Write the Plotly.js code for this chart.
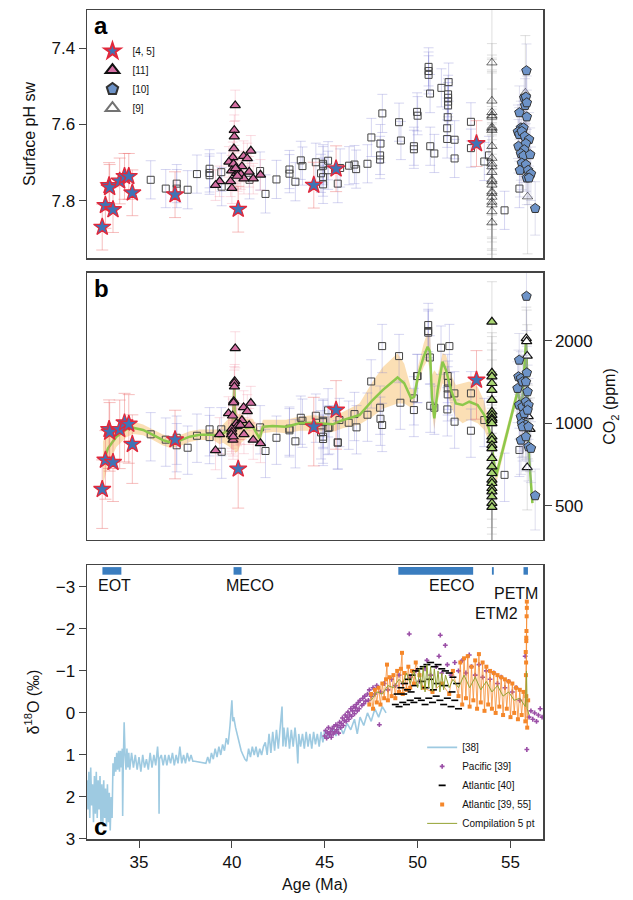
<!DOCTYPE html>
<html>
<head>
<meta charset="utf-8">
<script src="https://cdn.plot.ly/plotly-3.0.1.min.js"></script>
<style>body{margin:0;background:#fff}</style>
</head>
<body>
<div id="chart" style="width:633px;height:900px"></div>
<script>
// ---- panel a / b : boron proxy pH and CO2 ----
var starAge = [33.02, 33.19, 33.39, 33.42, 33.60, 33.96, 34.22, 34.45, 34.64, 36.94, 40.34, 44.41, 45.61, 53.17];
var starPH  = [7.869, 7.812, 7.760, 7.765, 7.823, 7.748, 7.736, 7.736, 7.779, 7.784, 7.822, 7.759, 7.716, 7.650];
var starCO2 = [575, 735, 951, 930, 721, 950, 1005, 994, 839, 872, 682, 972, 1118, 1438];

var pinkAgeA = [40.18, 40.13, 40.13, 40.11, 40.05, 39.84, 40.09, 40.63, 40.83, 41.02, 40.54, 39.99, 40.24,
                40.38, 40.48, 40.93, 40.65, 41.15, 41.54, 39.34, 39.12, 39.93, 40.00, 40.30, 40.20];
var pinkPH   = [7.550, 7.615, 7.632, 7.663, 7.686, 7.698, 7.703, 7.683, 7.689, 7.669, 7.710, 7.721, 7.728,
                7.724, 7.730, 7.724, 7.742, 7.742, 7.732, 7.749, 7.759, 7.749, 7.767, 7.735, 7.715];
var pinkAgeB = [40.18, 40.15, 40.13, 40.14, 40.10, 40.09, 40.63, 41.02, 40.83, 39.82, 40.04, 40.54, 40.24, 40.40,
                40.28, 40.46, 40.93, 39.99, 40.00, 39.98, 40.06, 39.34, 40.65, 41.15, 41.54, 39.12, 40.07];
var pinkCO2  = [1875, 1425, 1400, 1360, 1205, 1189, 1143, 1186, 1106, 1087, 1066, 1026, 1000, 990,
                975, 985, 985, 955, 930, 910, 870, 912, 912, 870, 846, 797, 894];

var sqAgeA = [35.63, 36.44, 37.03, 37.03, 37.62, 38.12, 38.80, 38.80, 38.80, 39.43, 39.45, 40.95, 41.52, 41.81,
              42.40, 43.10, 43.10, 43.42, 43.71, 43.80, 44.52, 44.91, 44.91, 45.18, 45.18, 44.80, 44.91, 44.91,
              45.70, 45.83, 46.31, 46.60, 46.69, 47.30, 47.51, 47.98, 47.98, 48.00, 48.10, 49.00, 49.10, 49.80,
              49.80, 49.97, 50.00, 50.59, 50.59, 50.59, 50.67, 50.68, 50.90, 51.28, 51.67, 51.64, 51.64, 51.64,
              51.64, 51.62, 51.59, 51.59, 51.99, 51.99, 52.87, 52.87, 53.59, 53.84, 54.68, 55.48];
var sqPH   = [7.745, 7.768, 7.755, 7.768, 7.771, 7.730, 7.716, 7.727, 7.733, 7.725, 7.763, 7.745, 7.722, 7.782,
              7.744, 7.718, 7.729, 7.750, 7.694, 7.709, 7.699, 7.703, 7.708, 7.695, 7.720, 7.728, 7.738, 7.757,
              7.755, 7.714, 7.708, 7.705, 7.717, 7.703, 7.634, 7.681, 7.692, 7.650, 7.571, 7.594, 7.642, 7.657,
              7.665, 7.567, 7.577, 7.449, 7.460, 7.470, 7.519, 7.657, 7.676, 7.504, 7.489, 7.521, 7.530, 7.540,
              7.550, 7.581, 7.610, 7.638, 7.640, 7.689, 7.593, 7.662, 7.697, 7.681, 7.825, 7.768];
var sqAgeB = [35.63, 36.44, 37.03, 37.03, 37.62, 38.12, 38.80, 38.80, 39.43, 39.45, 41.52, 41.81, 42.40, 43.10,
              43.10, 43.42, 43.71, 43.80, 44.52, 44.91, 44.91, 45.18, 45.18, 44.80, 44.91, 44.91, 45.70, 45.25,
              45.79, 45.70, 46.29, 46.60, 46.71, 47.30, 47.50, 47.98, 48.00, 48.09, 48.09, 49.00, 49.07, 49.80,
              49.80, 49.97, 50.00, 50.57, 50.57, 50.57, 50.66, 50.68, 50.90, 51.26, 51.71, 51.62, 51.64, 51.62,
              51.62, 51.98, 51.60, 51.99, 52.87, 52.87, 53.59, 54.68, 55.48];
var sqCO2  = [912, 872, 886, 832, 815, 901, 951, 891, 951, 788, 967, 793, 886, 956,
              943, 860, 1048, 1022, 1066, 1022, 1010, 1115, 961, 927, 894, 877, 853, 967,
              1028, 850, 1005, 1081, 967, 1075, 1421, 1140, 1039, 986, 1912, 1758, 1189, 1233,
              1118, 1487, 1487, 2281, 2170, 2140, 1738, 1159, 1140, 1886, 1912, 1487, 1406, 1340,
              1275, 1286, 1124, 1014, 1286, 940, 1028, 649, 800];

var triAgeA = [54.0, 54.0, 54.0, 54.0, 54.0, 54.0, 54.0, 54.0, 54.0, 54.0, 54.0, 54.0, 54.0,
               54.0, 54.0, 54.0, 54.0, 54.0, 54.0, 54.0, 54.0, 54.0, 54.0, 55.80, 55.92];
var triPH   = [7.438, 7.538, 7.568, 7.576, 7.580, 7.607, 7.611, 7.615, 7.657, 7.688, 7.703, 7.710, 7.725,
               7.745, 7.749, 7.758, 7.776, 7.780, 7.790, 7.803, 7.810, 7.828, 7.857, 7.517, 7.789];
var triAgeB = [54.0, 54.0, 54.0, 54.0, 54.0, 54.0, 54.0, 54.0, 54.0, 54.0, 54.0, 54.0, 54.0,
               54.0, 54.0, 54.0, 54.0, 54.0, 54.0, 54.0, 54.0, 54.0, 54.0, 54.0, 54.0];
var triCO2  = [2344, 1528, 1479, 1400, 1322, 1216, 1102, 1072, 1043, 1028, 1000, 894, 869,
               833, 811, 746, 695, 658, 622, 605, 580, 564, 541, 512, 495];
var triAgeB2 = [55.85, 55.87, 55.90, 55.68, 55.95, 56.05, 55.90];
var triCO2b  = [2040, 1990, 1760, 1078, 1060, 952, 691];

var pentAgeA = [55.86, 55.74, 55.83, 55.79, 55.88, 55.48, 55.88, 55.56, 55.70, 55.40, 55.47, 55.61, 55.77, 56.00,
                55.43, 55.83, 55.74, 55.56, 55.70, 56.06, 55.61, 55.83, 55.51, 55.95, 56.10, 55.88, 56.00, 56.33];
var pentPH   = [7.459, 7.530, 7.528, 7.550, 7.543, 7.569, 7.580, 7.609, 7.609, 7.619, 7.626, 7.618, 7.631, 7.639,
                7.657, 7.650, 7.666, 7.676, 7.682, 7.679, 7.701, 7.705, 7.720, 7.720, 7.729, 7.740, 7.740, 7.820];
var pentAgeB = [55.86, 55.47, 55.38, 55.43, 55.56, 55.65, 55.88, 55.83, 55.92, 55.47, 55.65, 55.83, 55.97,
                55.56, 55.74, 55.92, 55.61, 55.83, 55.65, 55.97, 55.56, 55.83, 55.97, 56.10, 56.33];
var pentCO2  = [2905, 1700, 1341, 1479, 1459, 1417, 1528, 1417, 1304, 1166, 1149, 1199, 1166,
                1057, 1087, 1117, 1000, 986, 972, 972, 869, 894, 822, 811, 545];

// smoothed CO2 fit and its uncertainty band
var fitAge = [33.06, 33.33, 33.78, 34.32, 34.68, 35.22, 35.75, 36.29, 36.65, 37.19, 37.73, 38.26, 38.98, 39.34,
              39.52, 39.88, 40.05, 40.10, 40.13, 40.17, 40.32, 40.50, 40.77, 41.13, 41.49, 41.67, 42.20, 42.92,
              43.64, 44.35, 45.43, 45.97, 46.87, 47.58, 48.12, 48.92, 49.28, 49.65, 49.82, 50.00, 50.32, 50.54,
              50.67, 50.77, 50.90, 51.08, 51.34, 51.53, 51.80, 52.06, 52.42, 52.78, 53.23, 53.59, 53.86, 54.07,
              54.22, 55.38, 55.56, 55.65, 55.74, 55.83, 55.87, 55.91, 55.95, 56.00, 56.18];
var fitCO2 = [715, 811, 894, 951, 964, 946, 907, 869, 853, 865, 894, 909, 909, 894,
              919, 951, 1000, 1399, 1399, 1060, 951, 1000, 960, 970, 882, 972, 978, 972,
              1000, 1005, 992, 1028, 1072, 1216, 1322, 1470, 1399, 1233, 1250, 1470, 1748, 1900,
              1823, 1250, 1043, 1322, 1677, 1564, 1322, 1182, 1166, 1199, 1166, 1072, 946, 756,
              640, 1305, 1182, 1250, 1564, 1982, 1760, 1028, 950, 756, 512];
var fitLo  = [600, 700, 820, 890, 915, 905, 870, 830, 815, 825, 855, 870, 870, 840,
              850, 820, 800, 800, 800, 780, 790, 850, 880, 900, 840, 920, 930, 920,
              940, 940, 930, 960, 990, 1060, 1130, 1180, 1180, 1140, 1180, 1380, 1600, 1700,
              1550, 1100, 950, 1200, 1400, 1350, 1150, 1050, 1000, 1030, 1000, 946, 850, 690,
              600, 1240, 1120, 1190, 1480, 1880, 1670, 975, 900, 720, 490];
var fitHi  = [860, 930, 975, 1010, 1015, 990, 950, 910, 895, 905, 935, 950, 950, 950,
              990, 1050, 1100, 1450, 1450, 1150, 1080, 1080, 1040, 1040, 930, 1030, 1030, 1030,
              1060, 1070, 1060, 1100, 1180, 1420, 1600, 1800, 1650, 1340, 1330, 1580, 1950, 2150,
              2100, 1500, 1560, 1500, 1800, 1780, 1500, 1380, 1400, 1420, 1360, 1200, 1000, 830,
              680, 1370, 1240, 1310, 1650, 2080, 1850, 1080, 1000, 790, 535];

// ---- panel c : benthic d18O ----
var blueAge = [32.2, 32.25, 32.3, 32.35, 32.4, 32.45, 32.5, 32.55, 32.6, 32.65,
               32.7, 32.75, 32.8, 32.85, 32.9, 32.95, 33.0, 33.05, 33.1, 33.15,
               33.2, 33.25, 33.3, 33.35, 33.4, 33.45, 33.5, 33.55, 33.6, 33.65,
               33.7, 33.75, 33.8, 33.85, 33.9, 33.95, 34.0, 34.05, 34.1, 34.12,
               34.15, 34.2, 34.25, 34.3, 34.35, 34.4, 34.45, 34.5, 34.6, 34.7,
               34.8, 34.9, 35.0, 35.1, 35.2, 35.3, 35.4, 35.5, 35.6, 35.7,
               35.8, 35.9, 36.0, 36.06, 36.08, 36.1, 36.2, 36.3, 36.4, 36.5,
               36.6, 36.7, 36.8, 36.9, 37.0, 37.1, 37.2, 37.3, 37.4, 37.5,
               37.6, 37.7, 37.8, 37.9, 38.0, 38.6, 38.7, 38.8, 38.9, 39.0,
               39.1, 39.2, 39.3, 39.4, 39.5, 39.6, 39.7, 39.8, 39.9, 40.0,
               40.05, 40.1, 40.2, 40.3, 40.4, 40.5, 40.6, 40.7, 40.8, 40.9,
               41.0, 41.1, 41.2, 41.3, 41.4, 41.5, 41.6, 41.7, 41.8, 41.9,
               42.0, 42.1, 42.2, 42.3, 42.4, 42.5, 42.6, 42.7, 42.75, 42.8,
               42.9, 43.0, 43.1, 43.2, 43.3, 43.4, 43.5, 43.55, 43.6, 43.7,
               43.8, 43.9, 44.0, 44.1, 44.2, 44.3, 44.4, 44.5, 44.6, 44.7,
               44.8, 44.9, 45.0, 45.2, 45.4, 45.6, 45.8, 46.0, 46.2, 46.4,
               46.6, 46.75, 46.9, 47.1, 47.3, 47.5, 47.7, 47.9, 48.1, 48.3];
var blueD18 = [1.6, 2.3, 1.4, 2.5, 1.3, 2.2, 1.7, 2.6, 1.5, 2.4,
               1.4, 2.5, 1.6, 2.3, 1.5, 2.6, 1.7, 2.7, 1.6, 2.5,
               1.8, 2.7, 1.7, 2.6, 1.9, 2.8, 2.0, 2.5, 1.2, 1.5,
               1.05, 1.4, 0.95, 1.35, 0.9, 1.4, 0.9, 1.3, 0.85, 2.45,
               1.3, 0.22, 1.0, 1.35, 0.85, 1.3, 0.95, 1.35, 0.95, 1.3,
               1.0, 1.35, 1.05, 1.4, 1.0, 1.3, 1.1, 1.35, 0.95, 1.3,
               1.0, 1.25, 0.8, 1.2, 2.4, 1.1, 1.0, 1.25, 1.0, 1.25,
               1.0, 1.2, 0.95, 1.25, 1.0, 1.2, 0.8, 1.2, 1.0, 1.2,
               0.95, 1.15, 1.0, 1.15, 1.15, 1.2, 1.05, 1.2, 0.95, 1.1,
               0.85, 1.05, 0.8, 1.0, 0.75, 0.9, 0.6, 0.75, 0.3, -0.3,
               0.2, 0.1, 0.35, 0.55, 0.75, 0.9, 1.0, 1.1, 1.15, 0.85,
               1.05, 0.8, 1.0, 0.8, 1.05, 0.85, 1.0, 0.8, 0.7, 1.0,
               0.5, 0.95, 0.45, 0.9, 0.4, 0.85, 0.35, -0.15, 0.8, 0.35,
               0.8, 0.35, 0.85, 0.4, 0.8, 0.35, 0.8, 1.2, 0.5, 0.8,
               0.5, 0.85, 0.45, 0.8, 0.5, 0.85, 0.45, 0.75, 0.5, 0.8,
               0.45, 0.7, 0.4, 0.6, 0.35, 0.55, 0.3, 0.5, 0.25, 0.4,
               0.15, 0.5, 0.1, 0.3, 0.0, 0.2, -0.1, 0.1, -0.15, 0.0];

var pacAge = [45.0, 45.05, 45.1, 45.15, 45.2, 45.25, 45.3, 45.35, 45.4, 45.45,
              45.5, 45.55, 45.6, 45.65, 45.7, 45.75, 45.8, 45.85, 45.9, 45.95,
              46.0, 46.05, 46.1, 46.15, 46.2, 46.25, 46.3, 46.35, 46.4, 46.45,
              46.5, 46.55, 46.6, 46.65, 46.7, 46.75, 46.8, 46.85, 46.9, 47.0,
              47.05, 47.1, 47.15, 47.2, 47.3, 47.35, 47.4, 47.5, 47.6, 47.7,
              47.8, 47.94, 48.0, 48.2, 48.4, 48.6, 48.8, 49.0, 49.2, 49.55,
              49.6, 49.9, 50.1, 50.4, 50.5, 50.7, 51.0, 51.15, 51.22, 51.3,
              51.49, 51.6, 51.8, 52.0, 52.2, 52.4, 52.6, 52.78, 52.9, 53.1,
              53.3, 53.5, 53.7, 53.9, 54.1, 54.3, 54.5, 54.7, 54.9, 55.1,
              55.3, 55.5, 55.79, 55.88, 56.0, 56.1, 56.2, 56.3, 56.4, 56.5,
              56.6, 56.7];
var pacD18 = [0.55, 0.42, 0.6, 0.48, 0.35, 0.52, 0.45, 0.58, 0.38, 0.5,
              0.32, 0.45, 0.28, 0.4, 0.3, 0.48, 0.22, 0.35, 0.25, 0.12,
              0.3, 0.18, 0.05, 0.2, 0.1, -0.02, 0.15, 0.05, -0.1, 0.08,
              -0.05, -0.15, 0.02, -0.12, -0.2, -0.05, -0.25, -0.1, -0.3, -0.18,
              -0.35, -0.22, -0.4, -0.28, -0.45, -0.3, -0.55, -0.4, -0.6, -0.45,
              -0.65, 0.28, -0.5, -0.7, -0.55, -0.8, -0.65, -0.9, -0.7, -1.88,
              -0.85, -1.0, -0.75, -1.05, -1.25, -0.9, -1.1, -1.35, -1.85, -0.95,
              -1.61, -1.15, -0.9, -1.2, -1.0, -1.25, -0.95, -1.38, -1.1, -0.9,
              -1.15, -0.85, -1.0, -0.8, -0.95, -0.7, -0.85, -0.6, -0.75, -0.5,
              -0.6, -0.3, -1.35, 0.87, 0.1, -0.05, 0.15, 0.0, 0.2, 0.05,
              -0.1, 0.1];

var atl40Age = [48.8, 48.9, 49.0, 49.1, 49.2, 49.25, 49.3, 49.4, 49.45, 49.5,
                49.6, 49.65, 49.7, 49.8, 49.85, 49.9, 50.0, 50.1, 50.2, 50.25,
                50.3, 50.4, 50.45, 50.5, 50.6, 50.65, 50.7, 50.8, 50.85, 50.9,
                51.0, 51.05, 51.1, 51.2, 51.3, 51.4, 51.45, 51.5, 51.6, 51.7,
                51.8, 51.85, 51.9, 52.0, 52.1, 52.2];
var atl40D18 = [-0.2, -0.45, -0.15, -0.6, -0.25, -0.45, -0.7, -0.2, -0.55, -0.8,
                -0.3, -0.5, -0.9, -0.25, -0.65, -1.0, -0.35, -1.05, -0.3, -0.75,
                -1.1, -0.2, -0.6, -1.15, -0.35, -0.8, -1.2, -0.25, -0.55, -1.1,
                -0.4, -0.7, -1.15, -0.3, -1.05, -0.2, -0.65, -1.0, -0.35, -0.95,
                -0.15, -0.5, -0.85, -0.3, -0.7, -0.1];

var atlAge = [47.4, 47.5, 47.6, 47.7, 47.8, 47.9, 48.0, 48.1, 48.2, 48.3,
              48.35, 48.4, 48.5, 48.6, 48.7, 48.8, 48.9, 49.0, 49.1, 49.16,
              49.2, 49.3, 49.4, 49.5, 49.6, 49.7, 49.8, 49.9, 50.1, 50.3,
              50.8, 51.3, 51.7, 51.9, 52.2, 52.3, 52.4, 52.5, 52.6, 52.7,
              52.8, 52.9, 53.0, 53.1, 53.2, 53.3, 53.4, 53.5, 53.6, 53.7,
              53.8, 53.9, 54.0, 54.1, 54.2, 54.3, 54.4, 54.5, 54.6, 54.7,
              54.8, 54.9, 55.0, 55.1, 55.2, 55.3, 55.4, 55.5, 55.6, 55.7,
              55.8, 55.82, 55.83, 55.84, 55.85, 55.85, 55.86, 55.87, 55.88, 55.88,
              55.85, 55.9, 55.95];
var atlD18 = [-0.2, -0.45, -0.1, -0.55, -0.25, -0.6, -0.2, -0.7, -0.35, -0.8,
              -1.15, -0.3, -0.85, -0.4, -0.9, -0.35, -1.0, -0.5, -1.05, -1.43,
              -0.45, -0.95, -0.55, -1.1, -0.6, -1.0, -0.7, -1.2, -0.9, -0.6,
              -0.5, -0.7, -0.45, -1.0, -0.4, -1.2, -0.2, -1.3, -0.35, -1.35,
              -0.15, -1.1, -0.3, -1.25, -0.1, -1.4, -0.25, -1.2, -0.05, -1.1,
              -0.2, -1.0, -0.1, -0.95, 0.0, -0.9, -0.15, -0.85, 0.05, -0.8,
              -0.1, -0.75, 0.1, -0.7, 0.0, -0.6, 0.15, -0.55, 0.05, -0.5,
              0.2, -1.45, -0.9, -1.2, -1.71, -1.79, -1.95, -2.3, -2.5, -2.65,
              -0.4, 0.35, -0.3];

var compAge = [47.5, 47.8, 48.1, 48.4, 48.7, 49.0, 49.2, 49.4, 49.6, 49.8,
               50.0, 50.1, 50.2, 50.3, 50.4, 50.5, 50.6, 50.7, 50.8, 50.9,
               51.0, 51.1, 51.2, 51.3, 51.4, 51.5, 51.7, 51.9, 52.2, 52.5,
               52.8, 53.1, 53.4, 53.7, 54.0, 54.3, 54.6, 54.9, 55.2, 55.5,
               55.8, 55.86, 55.9, 56.0];
var compD18 = [-0.3, -0.5, -0.45, -0.65, -0.6, -0.8, -0.7, -0.95, -0.7, -1.0,
               -0.6, -1.05, -0.55, -1.1, -0.5, -1.15, -0.6, -1.1, -0.5, -1.05,
               -0.6, -1.0, -0.5, -0.95, -0.55, -0.9, -0.6, -0.8, -0.6, -0.9,
               -0.6, -0.85, -0.55, -0.75, -0.5, -0.65, -0.4, -0.5, -0.3, -0.35,
               -0.15, -1.0, -0.1, 0.05];

var eventName  = ['EOT', 'MECO', 'EECO', 'ETM2', 'PETM'];
var eventStart = [33.03, 40.09, 48.96, 54.00, 55.70];
var eventEnd   = [34.05, 40.52, 52.99, 54.10, 55.94];

var FONT = 'Liberation Sans, Arial, sans-serif';
var ageRange = [32.2, 56.75];

function pts(x, y, xa, ya, marker, err, extra) {
    var t = {x: x, y: y, xaxis: xa, yaxis: ya, type: 'scatter', mode: 'markers',
             marker: marker, showlegend: false, hoverinfo: 'skip'};
    if (err) t.error_y = err;
    for (var k in extra) t[k] = extra[k];
    return t;
}

var starM = {symbol: 'star', size: 13, color: '#3f74b6', line: {color: '#e2283b', width: 1.3}};
var pinkM = {symbol: 'triangle-up', size: 9, color: '#d46fa3', line: {color: '#111', width: 1.2}};
var pentM = {symbol: 'pentagon', size: 10, color: '#6d93c8', line: {color: '#333', width: 1}};
var sqM   = {symbol: 'square-open', size: 7, color: '#444', line: {width: 1}};

var data = [
    // panel a
    pts(sqAgeA, sqPH, 'x', 'y', sqM, {type: 'constant', value: 0.05, color: 'rgba(120,120,210,0.3)', thickness: 1, width: 5}),
    pts(triAgeA, triPH, 'x', 'y', {symbol: 'triangle-up-open', size: 9, color: 'rgba(0,0,0,0.55)', line: {width: 1}},
        {type: 'constant', value: 0.15, color: 'rgba(150,150,150,0.3)', thickness: 1, width: 5},
        {name: '[9]', showlegend: true, legendrank: 4}),
    pts(pinkAgeA, pinkPH, 'x', 'y', pinkM, {type: 'constant', value: 0.04, color: 'rgba(240,140,160,0.3)', thickness: 1, width: 5},
        {name: '[11]', showlegend: true, legendrank: 2}),
    pts(pentAgeA, pentPH, 'x', 'y', pentM, {type: 'constant', value: 0.07, color: 'rgba(150,150,200,0.3)', thickness: 1, width: 5},
        {name: '[10]', showlegend: true, legendrank: 3}),
    pts(starAge, starPH, 'x', 'y', starM, {type: 'constant', value: 0.06, color: 'rgba(235,110,110,0.45)', thickness: 1, width: 6},
        {name: '[4, 5]', showlegend: true, legendrank: 1}),
    // panel b
    {x: fitAge, y: fitLo, xaxis: 'x2', yaxis: 'y2', type: 'scatter', mode: 'lines', line: {width: 0, color: 'rgba(0,0,0,0)'},
     showlegend: false, hoverinfo: 'skip'},
    {x: fitAge, y: fitHi, xaxis: 'x2', yaxis: 'y2', type: 'scatter', mode: 'lines', line: {width: 0, color: 'rgba(0,0,0,0)'},
     fill: 'tonexty', fillcolor: 'rgba(248,196,120,0.55)', showlegend: false, hoverinfo: 'skip'},
    pts(sqAgeB, sqCO2, 'x2', 'y2', sqM, {type: 'percent', value: 20, color: 'rgba(120,120,210,0.3)', thickness: 1, width: 5}),
    {x: fitAge, y: fitCO2, xaxis: 'x2', yaxis: 'y2', type: 'scatter', mode: 'lines',
     line: {color: '#8cc84b', width: 2.5}, showlegend: false, hoverinfo: 'skip'},
    pts(triAgeB, triCO2, 'x2', 'y2', {symbol: 'triangle-up', size: 9, color: '#a9d572', line: {color: '#111', width: 1.2}},
        {type: 'percent', value: 40, color: 'rgba(150,150,150,0.3)', thickness: 1, width: 5}),
    pts(triAgeB2, triCO2b, 'x2', 'y2', {symbol: 'triangle-up', size: 9, color: '#fff', line: {color: '#111', width: 1.2}},
        {type: 'percent', value: 30, color: 'rgba(150,150,150,0.3)', thickness: 1, width: 5}),
    pts(pentAgeB, pentCO2, 'x2', 'y2', pentM, {type: 'percent', value: 25, color: 'rgba(150,150,200,0.3)', thickness: 1, width: 5}),
    pts(pinkAgeB, pinkCO2, 'x2', 'y2', pinkM, {type: 'percent', value: 15, color: 'rgba(240,140,160,0.3)', thickness: 1, width: 5}),
    pts(starAge, starCO2, 'x2', 'y2', starM, {type: 'percent', value: 28, color: 'rgba(235,110,110,0.45)', thickness: 1, width: 6}),
    // panel c
    {x: blueAge, y: blueD18, xaxis: 'x3', yaxis: 'y3', type: 'scatter', mode: 'lines', name: '[38]',
     line: {color: '#9ecae1', width: 1.6}, legend: 'legend2', legendrank: 1, hoverinfo: 'skip'},
    pts(pacAge, pacD18, 'x3', 'y3', {symbol: 'cross', size: 4, color: '#9a4ea6'}, null,
        {name: 'Pacific [39]', showlegend: true, legend: 'legend2', legendrank: 2}),
    {x: atlAge, y: atlD18, xaxis: 'x3', yaxis: 'y3', type: 'scatter', mode: 'lines',
     line: {color: 'rgba(245,135,40,0.75)', width: 1}, showlegend: false, hoverinfo: 'skip'},
    pts(atlAge, atlD18, 'x3', 'y3', {symbol: 'square', size: 4, color: '#f5872a'}, null,
        {name: 'Atlantic [39, 55]', showlegend: true, legend: 'legend2', legendrank: 4}),
    pts(atl40Age, atl40D18, 'x3', 'y3', {symbol: 'line-ew', size: 5, color: '#000', line: {color: '#000', width: 1.6}}, null,
        {name: 'Atlantic [40]', showlegend: true, legend: 'legend2', legendrank: 3}),
    {x: compAge, y: compD18, xaxis: 'x3', yaxis: 'y3', type: 'scatter', mode: 'lines', name: 'Compilation 5 pt',
     line: {color: '#93a232', width: 1}, legend: 'legend2', legendrank: 5, hoverinfo: 'skip'}
];

var shapes = [];
var annotations = [
    {text: '<b>a</b>', xref: 'x domain', yref: 'y domain', x: 0.012, y: 1.0, xanchor: 'left', yanchor: 'top',
     showarrow: false, font: {size: 24, family: FONT, color: '#000'}},
    {text: '<b>b</b>', xref: 'x2 domain', yref: 'y2 domain', x: 0.012, y: 1.0, xanchor: 'left', yanchor: 'top',
     showarrow: false, font: {size: 24, family: FONT, color: '#000'}},
    {text: '<b>c</b>', xref: 'x3 domain', yref: 'y3 domain', x: 0.012, y: -0.01, xanchor: 'left', yanchor: 'bottom',
     showarrow: false, font: {size: 24, family: FONT, color: '#000'}}
];
var labelPos = {EOT: [33.7, -3.03], MECO: [41.0, -3.03], EECO: [51.8, -3.03], ETM2: [54.27, -2.37], PETM: [55.3, -2.85]};
for (var i = 0; i < eventName.length; i++) {
    shapes.push({type: 'rect', xref: 'x3', yref: 'y3', x0: eventStart[i], x1: eventEnd[i], y0: -3.47, y1: -3.29,
                 fillcolor: '#3a7dbf', line: {width: 0}});
    annotations.push({text: eventName[i], xref: 'x3', yref: 'y3', x: labelPos[eventName[i]][0], y: labelPos[eventName[i]][1],
                      showarrow: false, font: {size: 16, family: FONT, color: '#111'}});
}

var baseX = {range: ageRange, showgrid: false, zeroline: false, showline: true, mirror: true,
             linecolor: '#444', linewidth: 1.5, ticks: '', showticklabels: false};
var baseY = {showgrid: false, zeroline: false, showline: true, mirror: true, linecolor: '#444', linewidth: 1.5,
             ticks: 'outside', ticklen: 7, tickcolor: '#444', tickfont: {size: 17, family: FONT, color: '#111'}};

function merge(a, b) { var o = {}; for (var k in a) o[k] = a[k]; for (var k2 in b) o[k2] = b[k2]; return o; }

var layout = {
    width: 633, height: 900,
    margin: {l: 87, r: 90, t: 10, b: 61},
    paper_bgcolor: '#fff', plot_bgcolor: '#fff',
    font: {family: FONT, color: '#111'},
    xaxis: merge(baseX, {domain: [0, 1], anchor: 'y'}),
    yaxis: merge(baseY, {domain: [0.7008, 1], range: [7.95, 7.30], tickvals: [7.4, 7.6, 7.8], ticktext: ['7.4', '7.6', '7.8'],
                 title: {text: 'Surface pH sw', font: {size: 16, family: FONT}, standoff: 12}}),
    xaxis2: merge(baseX, {domain: [0, 1], anchor: 'y2'}),
    yaxis2: merge(baseY, {domain: [0.3607, 0.6828], type: 'log', range: [2.575, 3.548], side: 'right',
                  tickvals: [500, 1000, 2000], ticktext: ['500', '1000', '2000'],
                  title: {text: 'CO<sub>2</sub> (ppm)', font: {size: 16, family: FONT}, standoff: 12}}),
    xaxis3: merge(baseX, {domain: [0, 1], anchor: 'y3', ticks: 'outside', ticklen: 7, tickcolor: '#444', showticklabels: true,
                  tickvals: [35, 40, 45, 50, 55], tickfont: {size: 17, family: FONT, color: '#111'},
                  title: {text: 'Age (Ma)', font: {size: 16, family: FONT}, standoff: 8}}),
    yaxis3: merge(baseY, {domain: [0, 0.3305], range: [3, -3.52], tickvals: [-3, -2, -1, 0, 1, 2, 3],
                  title: {text: 'δ<sup>18</sup>O (‰)', font: {size: 16, family: FONT}, standoff: 12}}),
    legend: {x: 0.012, y: 0.968, xanchor: 'left', yanchor: 'top', bgcolor: 'rgba(0,0,0,0)', traceorder: 'normal',
             font: {size: 10, family: FONT}, tracegroupgap: 0, itemsizing: 'constant'},
    legend2: {x: 0.735, y: 0.128, xanchor: 'left', yanchor: 'top', bgcolor: 'rgba(0,0,0,0)', traceorder: 'normal',
              font: {size: 10, family: FONT}, tracegroupgap: 0, itemwidth: 30},
    shapes: shapes,
    annotations: annotations
};

Plotly.newPlot('chart', data, layout, {displayModeBar: false, staticPlot: true});
</script>
</body>
</html>
